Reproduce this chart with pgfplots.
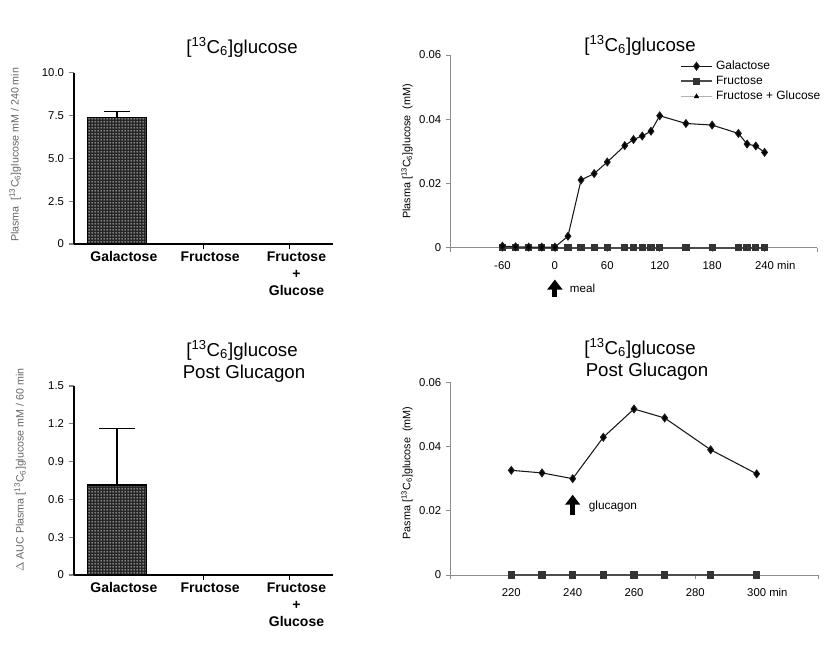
\documentclass[border=0pt]{standalone}
\usepackage{fontspec}
\setmainfont{Liberation Sans}
\usepackage{pgfplots}
\pgfplotsset{compat=1.18}
\usetikzlibrary{arrows.meta,patterns.meta}

\tikzdeclarepattern{
  name=finedots,
  type=uncolored,
  bounding box={(0pt,0pt) and (2.2pt,2.2pt)},
  tile size={(2.2pt,2.2pt)},
  code={\fill (0.4pt,0.4pt) rectangle (1.3pt,1.3pt);}
}

\newcommand{\cglc}{[\textsuperscript{13}C\textsubscript{6}]glucose}

\pgfplotsset{
  barax/.style={
    scale only axis,
    axis x line*=bottom, axis y line*=left,
    axis line style={line width=1pt},
    xmin=-0.5, xmax=2.5, ymin=0,
    xtick={0,1,2},
    xticklabels={\strut Galactose,\strut Fructose,{\strut Fructose\\+\\Glucose}},
    xtick style={draw=none},
    extra x ticks={1,2}, extra x tick labels={},
    extra x tick style={xtick style={draw=black,line width=1pt}},
    tick align=outside, major tick length=4pt,
    ytick style={line width=1pt},
    x tick label style={align=center, anchor=north, font=\bfseries\fontsize{10.5}{13}\selectfont, xshift=5pt, yshift=3.75pt},
    y tick label style={font=\fontsize{8.5}{10}\selectfont},
    ylabel style={anchor=center, font=\fontsize{8}{9}\selectfont, text=black!60},
    /pgf/number format/assume math mode=true,
    bar width=0.68,
  },
  lineax/.style={
    scale only axis,
    axis x line*=bottom, axis y line*=left,
    axis line style={black!45, line width=0.5pt},
    tick style={black!45, line width=0.5pt},
    tick align=outside, major tick length=3pt,
    ymin=0, ymax=0.06,
    ytick={0,0.02,0.04,0.06},
    yticklabels={0,0.02,0.04,0.06},
    scaled y ticks=false,
    tick label style={font=\fontsize{8.5}{10}\selectfont},
    x tick label style={anchor=north, text height=6.5pt, text depth=0pt, yshift=-3.2pt},
    ylabel style={anchor=center, font=\fontsize{8.1}{9}\selectfont},
    /pgf/number format/assume math mode=true,
    clip=false,
  },
  galst/.style={black!90, line width=0.8pt, mark=diamond*, mark size=2.8pt, mark options={solid, fill=black}},
  frust/.style={black!70, line width=1.4pt, mark=square*, mark size=2pt, mark options={solid, fill=black!80, draw=black!80}},
  fgst/.style={black!30, line width=0.4pt, mark=triangle*, mark size=1.9pt, mark options={solid, fill=black, draw=black}},
}

\begin{document}
\begin{tikzpicture}
\path[use as bounding box] (0,0) rectangle (624.75pt,-483pt);

% ---------- top left bar chart ----------
\begin{axis}[barax,
  at={(55.5pt,-183pt)}, anchor=south west,
  width=194.25pt, height=128.5pt,
  ymax=10, ytick={0,2.5,5,7.5,10}, yticklabels={0,2.5,5.0,7.5,10.0},
  ylabel={Plasma\ \ \cglc\ mM / 240 min},
  ylabel style={at={(axis description cs:-0.228,0.52)}},
]
\addplot[ybar, draw=black, line width=1pt, fill=black!85,
  postaction={pattern=finedots, pattern color=white},
  error bars/.cd, y dir=plus, y explicit,
  error bar style={line width=1pt, black},
  error mark options={rotate=90, mark size=10pt, line width=1pt}]
  coordinates {(0,7.37) +- (0,0.37) (1,0) +- (0,0) (2,0) +- (0,0)};
\end{axis}
\node[font=\fontsize{14}{16}\selectfont] at (181.5pt,-35.25pt) {\cglc};

% ---------- bottom left bar chart ----------
\begin{axis}[barax,
  at={(55.5pt,-431.25pt)}, anchor=south west,
  width=194.25pt, height=141.75pt,
  ymax=1.5, ytick={0,0.3,0.6,0.9,1.2,1.5}, yticklabels={0,0.3,0.6,0.9,1.2,1.5},
  ylabel={$\Delta$ AUC Plasma \cglc\ mM / 60 min},
  ylabel style={at={(axis description cs:-0.208,0.555)}},
]
\addplot[ybar, draw=black, line width=1pt, fill=black!85,
  postaction={pattern=finedots, pattern color=white},
  error bars/.cd, y dir=plus, y explicit,
  error bar style={line width=1pt, black},
  error mark options={rotate=90, mark size=13.5pt, line width=1pt}]
  coordinates {(0,0.714) +- (0,0.45) (1,0) +- (0,0) (2,0) +- (0,0)};
\end{axis}
\node[font=\fontsize{14}{16}\selectfont] at (181.5pt,-262.5pt) {\cglc};
\node[font=\fontsize{14}{16}\selectfont] at (183pt,-280.5pt) {Post Glucagon};

% ---------- top right line chart ----------
\begin{axis}[lineax,
  at={(337.5pt,-185.8pt)}, anchor=south west,
  width=275.25pt, height=144.5pt,
  xmin=-120, xmax=300,
  xtick={-120,-60,0,60,120,180,240,300},
  xticklabels={,-60,0,60,120,180,240\rlap{ min},},
  ylabel={Plasma [\textsuperscript{13}C\textsubscript{6}]glucose\ \ (mM)},
  ylabel style={at={(axis description cs:-0.117,0.50)}},
  reverse legend,
  legend style={at={(0.625,0.985)}, anchor=north west, draw=none, fill=none,
    font=\fontsize{9}{10}\selectfont, row sep=-0.5pt, inner sep=0pt},
  legend cell align=left,
  legend image code/.code={\draw[mark repeat=2,mark phase=2,#1] plot coordinates {(-0.05cm,0cm) (0.37cm,0cm) (0.79cm,0cm)};},
]
\addplot[fgst] coordinates {(-60,0) (-45,0) (-30,0) (-15,0) (0,0) (15,0) (30,0) (45,0) (60,0) (80,0) (90,0) (100,0) (110,0) (120,0) (150,0) (180,0) (210,0) (220,0) (230,0) (240,0)};
\addlegendentry{Fructose + Glucose}
\addplot[frust] coordinates {(-60,0) (-45,0) (-30,0) (-15,0) (0,0) (15,0) (30,0) (45,0) (60,0) (80,0) (90,0) (100,0) (110,0) (120,0) (150,0) (180,0) (210,0) (220,0) (230,0) (240,0)};
\addlegendentry{Fructose}
\addplot[galst] coordinates {(-60,0.0005) (-45,0.0003) (-30,0.0002) (-15,0.0002) (0,0.0002) (15,0.0036) (30,0.0211) (45,0.0231) (60,0.0267) (80,0.0318) (90,0.0337) (100,0.0348) (110,0.0363) (120,0.0411) (150,0.0387) (180,0.0382) (210,0.0356) (220,0.0323) (230,0.0317) (240,0.0297)};
\addlegendentry{Galactose}
\draw[line width=3.8pt, -{Triangle[width=11pt,length=7.5pt]}] (axis cs:0,-0.0154) -- (axis cs:0,-0.0099);
\node[anchor=west, font=\fontsize{8.7}{9}\selectfont, inner sep=0pt] at (axis cs:17,-0.0126) {meal};
\end{axis}
\node[font=\fontsize{14}{16}\selectfont] at (480pt,-33.75pt) {\cglc};

% ---------- bottom right line chart ----------
\begin{axis}[lineax,
  at={(337.5pt,-431.25pt)}, anchor=south west,
  width=276pt, height=144.5pt,
  xmin=200, xmax=320,
  xtick={200,220,240,260,280,300,320},
  xticklabels={,220,240,260,280,300\rlap{ min},},
  ylabel={Pasma [\textsuperscript{13}C\textsubscript{6}]glucose\ \ (mM)},
  ylabel style={at={(axis description cs:-0.117,0.53)}},
]
\addplot[fgst] coordinates {(220,0) (230,0) (240,0) (250,0) (260,0) (270,0) (285,0) (300,0)};
\addplot[frust] coordinates {(220,0) (230,0) (240,0) (250,0) (260,0) (270,0) (285,0) (300,0)};
\addplot[galst] coordinates {(220,0.0326) (230,0.0318) (240,0.0300) (250,0.0429) (260,0.0517) (270,0.0489) (285,0.0390) (300,0.0315)};
\draw[line width=3.8pt, -{Triangle[width=11pt,length=7.5pt]}] (axis cs:240,0.0186) -- (axis cs:240,0.0250);
\node[anchor=west, font=\fontsize{8.9}{9}\selectfont, inner sep=0pt] at (axis cs:245.2,0.0215) {glucagon};
\end{axis}
\node[font=\fontsize{14}{16}\selectfont] at (480pt,-261pt) {\cglc};
\node[font=\fontsize{14}{16}\selectfont] at (485.25pt,-279pt) {Post Glucagon};
\end{tikzpicture}
\end{document}
